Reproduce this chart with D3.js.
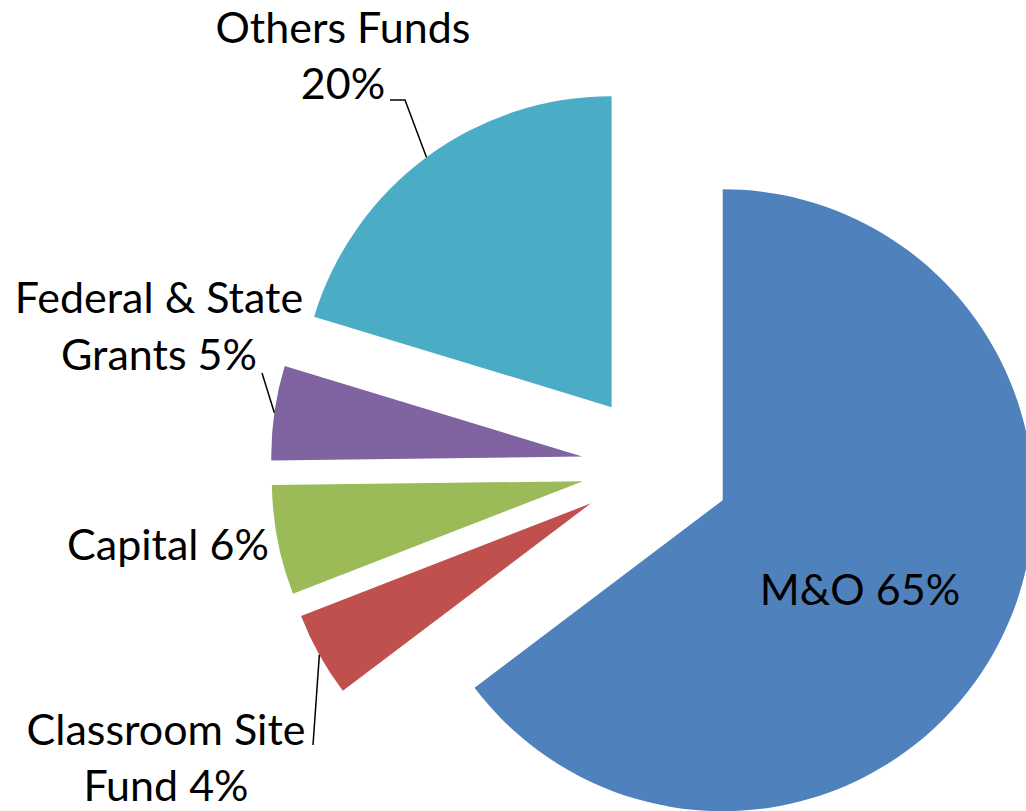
<!DOCTYPE html>
<html>
<head>
<meta charset="utf-8">
<script src="https://cdn.jsdelivr.net/npm/d3@7"></script>
<style>
  html, body { margin: 0; padding: 0; background: #ffffff; }
  svg { display: block; }
  text { font-family: Lato, "Open Sans", sans-serif; fill: #000; }
</style>
</head>
<body>
<svg id="chart" width="1026" height="811"></svg>
<script>
// ---- data ----
const categories = ["M&O", "Classroom Site Fund", "Capital", "Federal & State Grants", "Others Funds"];
const values = [64.7, 4.4, 5.7, 4.9, 20.3];
const colors = ["#4F81BD", "#C0504D", "#9BBB59", "#8064A2", "#4BACC6"];
// label text lines ({p} = rounded percentage)
const labelLines = [
  ["M&O {p}%"],
  ["Classroom Site", "Fund {p}%"],
  ["Capital {p}%"],
  ["Federal & State", "Grants {p}%"],
  ["Others Funds", "{p}%"]
];

// ---- layout ----
const W = 1026, H = 811;
const cx = 656, cy = 467, R = 311, explode = 74.5;
const fontSize = 43, lineH = 57;
// label anchor: center x, first baseline y; leader: end points near label (null = none)
const labelLayout = [
  { x: 860, y: 605, leader: null },
  { x: 166, y: 745, lh: 56, leader: [[313, 745]] },
  { x: 168, y: 560, leader: null },
  { x: 159, y: 313, leader: [[262, 373]] },
  { x: 343, y: 43,  lh: 56, leader: [[405, 100], [390, 100]] }
];

const svg = d3.select("#chart");
const total = d3.sum(values);
const pie = d3.pie().sort(null).value(d => d).startAngle(0).endAngle(2 * Math.PI);
const arcs = pie(values);
const arc = d3.arc().innerRadius(0).outerRadius(R);

const g = svg.append("g").attr("transform", `translate(${cx},${cy})`);

arcs.forEach((a, i) => {
  const mid = (a.startAngle + a.endAngle) / 2;
  const ox = explode * Math.sin(mid), oy = -explode * Math.cos(mid);
  g.append("path")
    .attr("d", arc(a))
    .attr("transform", `translate(${ox},${oy})`)
    .attr("fill", colors[i]);

  // leader line from the slice's outer arc midpoint to its label
  const L = labelLayout[i];
  if (L.leader) {
    const px = cx + ox + R * Math.sin(mid), py = cy + oy - R * Math.cos(mid);
    const pts = [[px, py]].concat(L.leader);
    svg.append("path")
      .attr("d", d3.line()(pts))
      .attr("fill", "none")
      .attr("stroke", "#000")
      .attr("stroke-width", 1.5);
  }
});

arcs.forEach((a, i) => {
  const p = Math.round(values[i] / total * 100);
  const L = labelLayout[i];
  const lh = L.lh || lineH;
  const t = svg.append("text")
    .attr("x", L.x).attr("y", L.y)
    .attr("text-anchor", "middle")
    .attr("font-size", fontSize);
  labelLines[i].forEach((ln, k) => {
    t.append("tspan")
      .attr("x", L.x)
      .attr("y", L.y + k * lh)
      .text(ln.replace("{p}", p));
  });
});
</script>
</body>
</html>
